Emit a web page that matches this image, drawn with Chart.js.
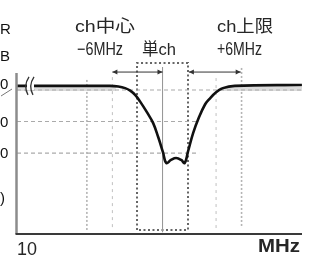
<!DOCTYPE html>
<html><head><meta charset="utf-8">
<script src="https://cdn.jsdelivr.net/npm/chart.js@4/dist/chart.umd.min.js"></script>
<style>html,body{margin:0;padding:0;background:#fff;overflow:hidden}</style>
</head><body>
<canvas id="c" width="312" height="256"></canvas>
<script>
// 単chフィルタの周波数特性
// 横軸: ch中心からの周波数差 (MHz)、縦軸: レベル (dB)

const freqMHz = [-17.1,-6.2,-5.2,-4.4,-3.8,-3.2,-2.65,-1.8,-1.1,-0.5,0.06,0.45,1.0,1.6,2.2,2.6,3.0,3.6,4.3,5.0,5.5,6.3,7.1,8.5,16.4];
const levelDB = [1.3,1.3,1.1,0.6,-0.2,-1.6,-3.6,-7.2,-10.5,-15.0,-19.8,-23.2,-22.2,-21.6,-22.2,-23.2,-19.5,-13.7,-8.6,-4.6,-2.9,-0.7,0.6,1.3,1.6];

const gridDB     = [0,-10,-20];
const gridEndMHz = [16.4,4.3,4.3];

// 縦の補助線（ch中心-6MHz、単ch の枠、ch上限+6MHz）
const markerMHz    = [-8.9,-5.9,0,6.3,9.3];
const markerTopDB  = [3.2,4.1,7.3,3.8,7.0];
const markerBotDB  = [-44.4,-44.8,-45.1,-43.8,-43.8];
const chBoxMHz     = [-3,3];
const chBoxDB      = [8.6,-44.4];

const arrowSpans = [[-5.9,0],[3.1,9.2]];
const arrowDB    = 5.7;

const topLabels  = ['ch中心','-6MHz','単ch','ch上限','+6MHz'];
const cutLabels  = ['SNR','dB','0','-10','-20','(typ)'];
const axisLabels = ['10','MHz'];

const X_MIN=-17.12, X_MAX=16.41, Y_MIN=-45.7, Y_MAX=5.4;
const LATIN="'Liberation Sans', Arial, sans-serif";
const MIXED="'Liberation Sans', 'Noto Sans CJK JP', sans-serif";

const pts=(xs,ys)=>xs.map((x,i)=>({x,y:ys[i]}));
const seg=(x0,y0,x1,y1,extra)=>Object.assign({data:[{x:x0,y:y0},{x:x1,y:y1}],pointRadius:0,fill:false,clip:false,tension:0},extra);

const datasets=[];
datasets.push({data:pts(freqMHz,levelDB),borderColor:'#111',borderWidth:2.6,pointRadius:0,
  tension:0.4,fill:false,clip:false});

// 横グリッド
gridDB.forEach((d,i)=>datasets.push(seg(X_MIN,d,gridEndMHz[i],d,{borderColor:'#aaa',borderWidth:1.2,borderDash:[4,3]})));
// 平坦部のうすい帯
datasets.push(seg(X_MIN,0.3,-5.5,0.3,{borderColor:'#dcdcdc',borderWidth:4}));
datasets.push(seg(6.8,0.3,X_MAX,0.3,{borderColor:'#dcdcdc',borderWidth:4}));

// 縦の補助線
const markerStyle=[
  {borderColor:'#b4b4b4',borderWidth:1.6,borderDash:[2,2]},
  {borderColor:'#c0c0c0',borderWidth:1,borderDash:[3,4]},
  {borderColor:'#999',borderWidth:1},
  {borderColor:'#c0c0c0',borderWidth:1,borderDash:[3,4]},
  {borderColor:'#b4b4b4',borderWidth:1.6,borderDash:[2,2]},
];
markerMHz.forEach((m,i)=>datasets.push(seg(m,markerTopDB[i],m,markerBotDB[i],markerStyle[i])));

// 単ch の点線枠
datasets.push({data:[{x:chBoxMHz[0],y:chBoxDB[1]},{x:chBoxMHz[0],y:chBoxDB[0]},{x:chBoxMHz[1],y:chBoxDB[0]},
  {x:chBoxMHz[1],y:chBoxDB[1]},{x:chBoxMHz[0],y:chBoxDB[1]}],
  borderColor:'#666',borderWidth:2,borderDash:[2,2.5],pointRadius:0,fill:false,clip:false,tension:0});

function fitText(ctx,text,left,midY,width,font){
  ctx.font=font;
  const w=ctx.measureText(text).width;
  ctx.save();ctx.translate(left,midY);ctx.scale(width/w,1);
  ctx.textAlign='left';ctx.textBaseline='middle';ctx.fillText(text,0,0);ctx.restore();
}
function cutText(ctx,text,midY,font){
  ctx.font=font;
  const w=ctx.measureText(text).width, wl=ctx.measureText(text.slice(-1)).width;
  ctx.textAlign='left';ctx.textBaseline='middle';ctx.fillText(text,-(w-wl),midY);
}

const decor={
  id:'decor',
  afterDraw(chart){
    const {ctx,chartArea:a,scales:{x,y}}=chart;
    ctx.save();
    // 軸
    ctx.strokeStyle='#8c8c8c';ctx.lineWidth=2.5;
    ctx.beginPath();ctx.moveTo(a.left-0.5,a.top);ctx.lineTo(a.left-0.5,a.bottom);ctx.stroke();
    ctx.strokeStyle='#3a3a3a';ctx.lineWidth=2;
    ctx.beginPath();ctx.moveTo(a.left-1.5,a.bottom);ctx.lineTo(a.right,a.bottom);ctx.stroke();

    // 軸の省略記号
    const by=y.getPixelForValue(levelDB[0]);
    ctx.fillStyle='#fff';ctx.fillRect(27,by-4,7,8);
    ctx.strokeStyle='#333';ctx.lineWidth=1.3;
    [26,31].forEach(bx=>{ctx.beginPath();ctx.moveTo(bx+3,by-9);ctx.quadraticCurveTo(bx-3,by,bx+2,by+9);ctx.stroke();});

    // 矢印
    const ay=y.getPixelForValue(arrowDB);
    ctx.strokeStyle='#333';ctx.fillStyle='#333';ctx.lineWidth=1;
    arrowSpans.forEach(([m0,m1])=>{
      const x0=x.getPixelForValue(m0),x1=x.getPixelForValue(m1);
      ctx.beginPath();ctx.moveTo(x0,ay);ctx.lineTo(x1,ay);ctx.stroke();
      [[x0,1],[x1,-1]].forEach(([px,d])=>{
        ctx.beginPath();ctx.moveTo(px,ay);ctx.lineTo(px+5*d,ay-2.5);ctx.lineTo(px+5*d,ay+2.5);ctx.closePath();ctx.fill();
      });
    });

    // 文字
    ctx.fillStyle='#262626';
    const f17='17px '+MIXED;
    fitText(ctx,topLabels[0],75,27,60,f17);
    fitText(ctx,topLabels[1].replace('-','\u2212'),77,50,46,'18px '+LATIN);
    fitText(ctx,topLabels[2],142,50,34,f17);
    fitText(ctx,topLabels[3],217,27,56,f17);
    fitText(ctx,topLabels[4],217,50,45,'18px '+LATIN);
    fitText(ctx,axisLabels[0],17,250,20,'18px '+LATIN);
    fitText(ctx,axisLabels[1],258,247,42,'bold 18px '+LATIN);

    // 左端で切れた目盛り文字
    ctx.fillStyle='#111';
    const f15='15px '+LATIN;
    cutText(ctx,cutLabels[0],30,f15);
    cutText(ctx,cutLabels[1],57,f15);
    cutText(ctx,cutLabels[2],y.getPixelForValue(gridDB[0])-5,f15);
    cutText(ctx,cutLabels[3],y.getPixelForValue(gridDB[1])+1,f15);
    cutText(ctx,cutLabels[4],y.getPixelForValue(gridDB[2])+1,f15);
    cutText(ctx,cutLabels[5],199,f15);
    ctx.strokeStyle='#777';ctx.lineWidth=1;
    ctx.beginPath();ctx.moveTo(1,96);ctx.lineTo(12,89);ctx.stroke();
    ctx.restore();
  }
};

new Chart(document.getElementById('c'),{
  type:'line',
  data:{datasets},
  plugins:[decor],
  options:{
    responsive:false,animation:false,devicePixelRatio:1,
    layout:{padding:{left:17,right:10,top:73,bottom:22}},
    plugins:{legend:{display:false},tooltip:{enabled:false}},
    scales:{
      x:{type:'linear',min:X_MIN,max:X_MAX,display:false},
      y:{type:'linear',min:Y_MIN,max:Y_MAX,display:false}
    }
  }
});
</script>
</body></html>
